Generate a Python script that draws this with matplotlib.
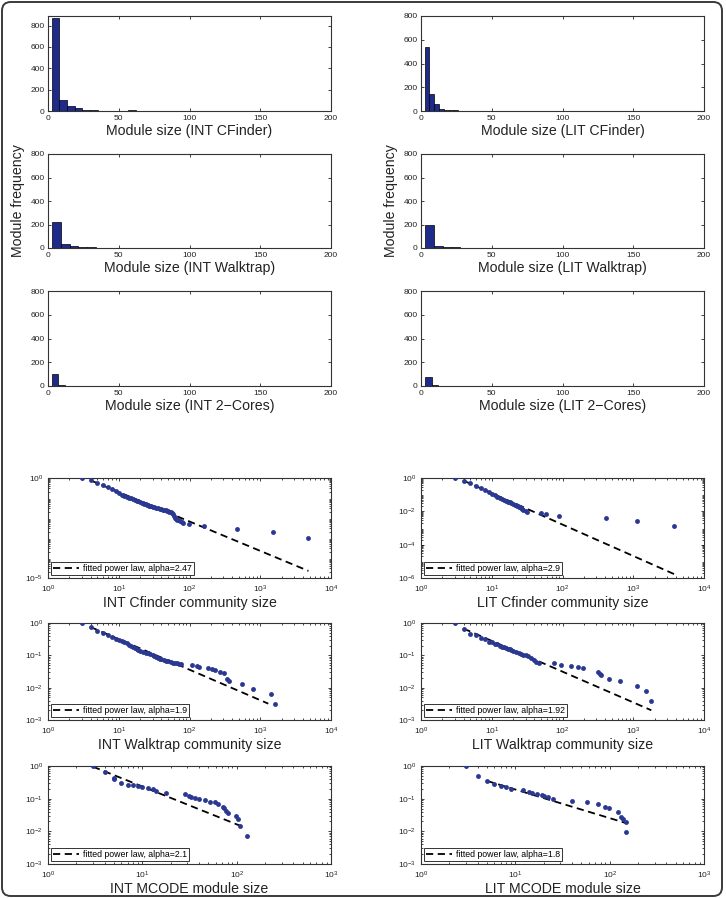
import numpy as np
import matplotlib
matplotlib.use("Agg")
import matplotlib.pyplot as plt
from matplotlib.patches import FancyBboxPatch
from matplotlib.ticker import LogLocator, NullFormatter, FixedLocator

plt.rcParams['font.family'] = ['Liberation Sans', 'DejaVu Sans']
plt.rcParams['mathtext.fontset'] = 'custom'
plt.rcParams['mathtext.rm'] = 'Liberation Sans'
plt.rcParams['mathtext.it'] = 'Liberation Sans'
plt.rcParams['mathtext.default'] = 'regular'

# ---------------- histogram data (bin start, bin width, counts) ----------------
hist_titles = ["Module size (INT CFinder)", "Module size (LIT CFinder)",
               "Module size (INT Walktrap)", "Module size (LIT Walktrap)",
               "Module size (INT 2\u2212Cores)", "Module size (LIT 2\u2212Cores)"]
hist_start = [2.6, 2.6, 2.6, 2.6, 2.6, 2.8]
hist_width = [5.4, 3.4, 6.3, 6.3, 4.7, 4.7]
int_cf_counts = [870, 105, 50, 25, 12, 6, 4, 3, 2, 2, 8, 2, 1, 1, 3, 1, 0, 1, 0, 0,
                 0, 1, 0, 0, 0, 0, 0, 0, 1, 1]
lit_cf_counts = [540, 140, 60, 20, 12, 8, 5, 4, 3, 2, 2, 1, 1, 1, 0, 1, 1, 0, 1]
int_wt_counts = [220, 30, 18, 5, 5, 4, 3, 1, 1, 1, 1]
lit_wt_counts = [195, 15, 8, 5, 3, 3, 2, 0, 1]
int_2c_counts = [100, 8, 3, 2, 1, 1, 2]
lit_2c_counts = [78, 5, 2, 1]
hist_counts = [int_cf_counts, lit_cf_counts, int_wt_counts, lit_wt_counts,
               int_2c_counts, lit_2c_counts]
hist_ymax = [890, 800, 800, 800, 800, 800]

# ---------------- CCDF data ----------------
int_cf_x = [3, 4, 5, 6, 7, 8, 9, 10, 11, 12, 13, 14, 15, 16, 17, 18, 19, 20, 21, 22, 23, 24,
            25, 26, 27, 28, 29, 30, 32, 34, 36, 38, 40, 42, 44, 46, 48, 50, 52, 54, 56, 58,
            60, 62, 64, 66, 70, 74, 78, 80, 99, 160, 464, 1500, 4800]
int_cf_y = [1.0, 0.76, 0.54, 0.43, 0.35, 0.28, 0.225, 0.17, 0.145, 0.127, 0.115, 0.104,
            0.095, 0.087, 0.08, 0.073, 0.068, 0.063, 0.059, 0.055, 0.052, 0.049, 0.046,
            0.044, 0.042, 0.040, 0.038, 0.036, 0.034, 0.032, 0.030, 0.028, 0.027, 0.026,
            0.025, 0.024, 0.023, 0.022, 0.021, 0.020, 0.018, 0.016, 0.012, 0.010, 0.009,
            0.008, 0.0075, 0.0068, 0.0062, 0.0058, 0.005, 0.004, 0.0028, 0.0019, 0.00095]
int_cf_fit_x = [4, 4800]
int_cf_fit_y = [0.76, 2.26e-5]

lit_cf_x = [3, 4, 5, 6, 7, 8, 9, 10, 11, 12, 13, 14, 15, 16, 17, 18, 19, 20, 21, 22, 23,
            24, 25, 26, 27, 28, 30, 32, 50, 58, 89, 415, 1130, 3770]
lit_cf_y = [1.0, 0.69, 0.48, 0.33, 0.24, 0.19, 0.14, 0.11, 0.09, 0.076, 0.064, 0.055,
            0.048, 0.043, 0.038, 0.034, 0.030, 0.028, 0.025, 0.023, 0.021, 0.019, 0.017,
            0.015, 0.013, 0.012, 0.011, 0.0091, 0.0083, 0.0069, 0.0052, 0.0041, 0.0028,
            0.0014]
lit_cf_fit_x = [4, 3800]
lit_cf_fit_y = [0.69, 1.7e-6]

int_wt_x = [3, 4, 5, 6, 7, 8, 9, 10, 11, 12, 13, 14, 15, 16, 17, 18, 19, 20, 22, 24, 26,
            28, 30, 32, 34, 36, 38, 40, 43, 46, 50, 54, 58, 62, 66, 70, 77, 107, 126, 138,
            185, 206, 229, 270, 307, 343, 358, 545, 780, 1440, 1620]
int_wt_y = [1.0, 0.75, 0.57, 0.48, 0.42, 0.37, 0.33, 0.30, 0.275, 0.255, 0.235, 0.215,
            0.20, 0.185, 0.17, 0.16, 0.148, 0.138, 0.13, 0.122, 0.115, 0.108, 0.102, 0.096,
            0.09, 0.084, 0.079, 0.076, 0.072, 0.069, 0.066, 0.063, 0.06, 0.058, 0.056,
            0.054, 0.053, 0.052, 0.047, 0.044, 0.041, 0.037, 0.035, 0.031, 0.028, 0.019,
            0.016, 0.0126, 0.0094, 0.0065, 0.0031]
int_wt_fit_x = [4, 1300]
int_wt_fit_y = [0.75, 0.0032]

lit_wt_x = [3, 4, 5, 6, 7, 8, 9, 10, 11, 12, 13, 14, 15, 16, 17, 18, 19, 20, 22, 24, 26,
            28, 30, 33, 36, 39, 42, 47, 76, 94, 133, 166, 195, 318, 342, 351, 450, 660,
            1130, 1510, 1800]
lit_wt_y = [1.0, 0.67, 0.47, 0.44, 0.35, 0.31, 0.26, 0.25, 0.23, 0.22, 0.20, 0.185,
            0.178, 0.168, 0.158, 0.152, 0.145, 0.138, 0.128, 0.12, 0.112, 0.106, 0.1, 0.094,
            0.085, 0.071, 0.063, 0.059, 0.056, 0.052, 0.047, 0.043, 0.042, 0.031, 0.027,
            0.0245, 0.019, 0.016, 0.0114, 0.0079, 0.0039]
lit_wt_fit_x = [4, 1800]
lit_wt_fit_y = [0.67, 0.002]

int_mc_x = [3, 4, 5, 5.05, 6, 7, 8, 9, 10, 11.5, 13, 14, 18, 28, 31, 33, 36, 40, 46, 52,
            59, 64, 71, 74, 77, 80, 98, 104, 109, 128]
int_mc_y = [1.0, 0.67, 0.44, 0.40, 0.30, 0.26, 0.255, 0.245, 0.22, 0.21, 0.195, 0.177,
            0.15, 0.14, 0.125, 0.116, 0.108, 0.095, 0.091, 0.081, 0.078, 0.068, 0.057,
            0.051, 0.042, 0.036, 0.03, 0.024, 0.015, 0.0074]
int_mc_fit_x = [3, 122]
int_mc_fit_y = [0.95, 0.013]

lit_mc_x = [3, 4, 5, 6, 7, 8, 9, 12, 14, 15, 17, 19, 20, 22, 25, 40, 58, 76, 90, 98, 123,
            131, 137, 148, 148.5]
lit_mc_y = [1.0, 0.50, 0.35, 0.28, 0.25, 0.22, 0.195, 0.18, 0.16, 0.147, 0.135, 0.128,
            0.12, 0.11, 0.10, 0.085, 0.079, 0.068, 0.057, 0.051, 0.039, 0.028, 0.024, 0.019,
            0.0095]
lit_mc_fit_x = [5, 148]
lit_mc_fit_y = [0.35, 0.018]

log_panels = [
    ("INT Cfinder community size", int_cf_x, int_cf_y, int_cf_fit_x, int_cf_fit_y, "2.47", (1e-5, 1), 1e4, [1e-5, 1]),
    ("LIT Cfinder community size", lit_cf_x, lit_cf_y, lit_cf_fit_x, lit_cf_fit_y, "2.9", (1e-6, 1), 1e4, [1e-6, 1e-4, 1e-2, 1]),
    ("INT Walktrap community size", int_wt_x, int_wt_y, int_wt_fit_x, int_wt_fit_y, "1.9", (1e-3, 1), 1e4, [1e-3, 1e-2, 1e-1, 1]),
    ("LIT Walktrap community size", lit_wt_x, lit_wt_y, lit_wt_fit_x, lit_wt_fit_y, "1.92", (1e-3, 1), 1e4, [1e-3, 1e-2, 1e-1, 1]),
    ("INT MCODE module size", int_mc_x, int_mc_y, int_mc_fit_x, int_mc_fit_y, "2.1", (1e-3, 1), 1e3, [1e-3, 1e-2, 1e-1, 1]),
    ("LIT MCODE module size", lit_mc_x, lit_mc_y, lit_mc_fit_x, lit_mc_fit_y, "1.8", (1e-3, 1), 1e3, [1e-3, 1e-2, 1e-1, 1]),
]

# ---------------- layout (pixels) ----------------
W, H = 726, 898
fig = plt.figure(figsize=(W / 100, H / 100), dpi=100)

def px_axes(x0, y0, x1, y1):
    return fig.add_axes([x0 / W, 1 - y1 / H, (x1 - x0) / W, (y1 - y0) / H])

col_x = [(48, 331), (421, 704)]
hist_rows = [(16, 111), (154, 248), (291, 386)]
log_rows = [(478, 578), (623, 720), (766, 864)]

BAR = '#1f2b8a'
DOT = '#2a3891'
TICK_FS = 6.0
LABEL_FS = 10.2

def style(ax, xpad=2.5, ypad=2.5):
    ax.tick_params(direction='in', top=True, right=True, labelsize=TICK_FS,
                   length=2.5, width=0.6, colors='#222222')
    ax.tick_params(axis='x', pad=xpad)
    ax.tick_params(axis='y', pad=ypad)
    ax.tick_params(which='minor', direction='in', top=True, right=True, length=1.5, width=0.5)
    for s in ax.spines.values():
        s.set_linewidth(0.8)
        s.set_color('#333333')

for i in range(6):
    r, c = divmod(i, 2)
    ax = px_axes(col_x[c][0], hist_rows[r][0], col_x[c][1], hist_rows[r][1])
    counts = hist_counts[i]
    lefts = hist_start[i] + hist_width[i] * np.arange(len(counts))
    ax.bar(lefts, counts, width=hist_width[i], align='edge', color=BAR,
           edgecolor='black', linewidth=0.5)
    ax.set_xlim(0, 200)
    ax.set_ylim(0, hist_ymax[i])
    ax.set_xticks([0, 50, 100, 150, 200])
    ax.set_yticks([0, 200, 400, 600, 800])
    style(ax, xpad=3.0, ypad=2.5)
    ax.set_xlabel(hist_titles[i], fontsize=LABEL_FS, labelpad=1.5, color='#222222')
    if r == 1:
        ax.set_ylabel("Module frequency", fontsize=LABEL_FS, labelpad=4, color='#222222')

for i, (lab, xs, ys, fx, fy, alpha, ylim, xmax, yt) in enumerate(log_panels):
    r, c = divmod(i, 2)
    ax = px_axes(col_x[c][0], log_rows[r][0], col_x[c][1], log_rows[r][1])
    ax.set_xscale('log')
    ax.set_yscale('log')
    ax.plot(fx, fy, color='black', linestyle=(0, (4, 2.5)), linewidth=1.3,
            label="fitted power law, alpha=" + alpha, zorder=2)
    ax.plot(xs, ys, linestyle='none', marker='o', markersize=3.5, color=DOT,
            markeredgewidth=0, zorder=3)
    ax.set_xlim(1, xmax)
    ax.set_ylim(*ylim)
    ax.xaxis.set_major_locator(LogLocator(base=10, numticks=10))
    ax.xaxis.set_minor_locator(LogLocator(base=10, subs=np.arange(2, 10), numticks=50))
    ax.xaxis.set_minor_formatter(NullFormatter())
    ax.yaxis.set_major_locator(FixedLocator(yt))
    ax.yaxis.set_minor_locator(LogLocator(base=10, subs=np.arange(2, 10), numticks=50))
    ax.yaxis.set_minor_formatter(NullFormatter())
    style(ax, xpad=4.0, ypad=3.5)
    ax.set_xlabel(lab, fontsize=LABEL_FS, labelpad=0.5, color='#222222')
    leg = ax.legend(loc='lower left', fontsize=6.3, frameon=True, fancybox=False,
                    edgecolor='black', handlelength=3.0, handletextpad=0.5,
                    borderaxespad=0.35, borderpad=0.2)
    leg.get_frame().set_linewidth(0.7)

frame = FancyBboxPatch((2 / W, 2 / H), (W - 6) / W, (H - 4) / H,
                       boxstyle='round,pad=0,rounding_size=0.012',
                       mutation_aspect=W / H, transform=fig.transFigure,
                       fill=False, edgecolor='#3a3a3a', linewidth=1.4)
fig.patches.append(frame)

fig.savefig('out.png', dpi=100)
